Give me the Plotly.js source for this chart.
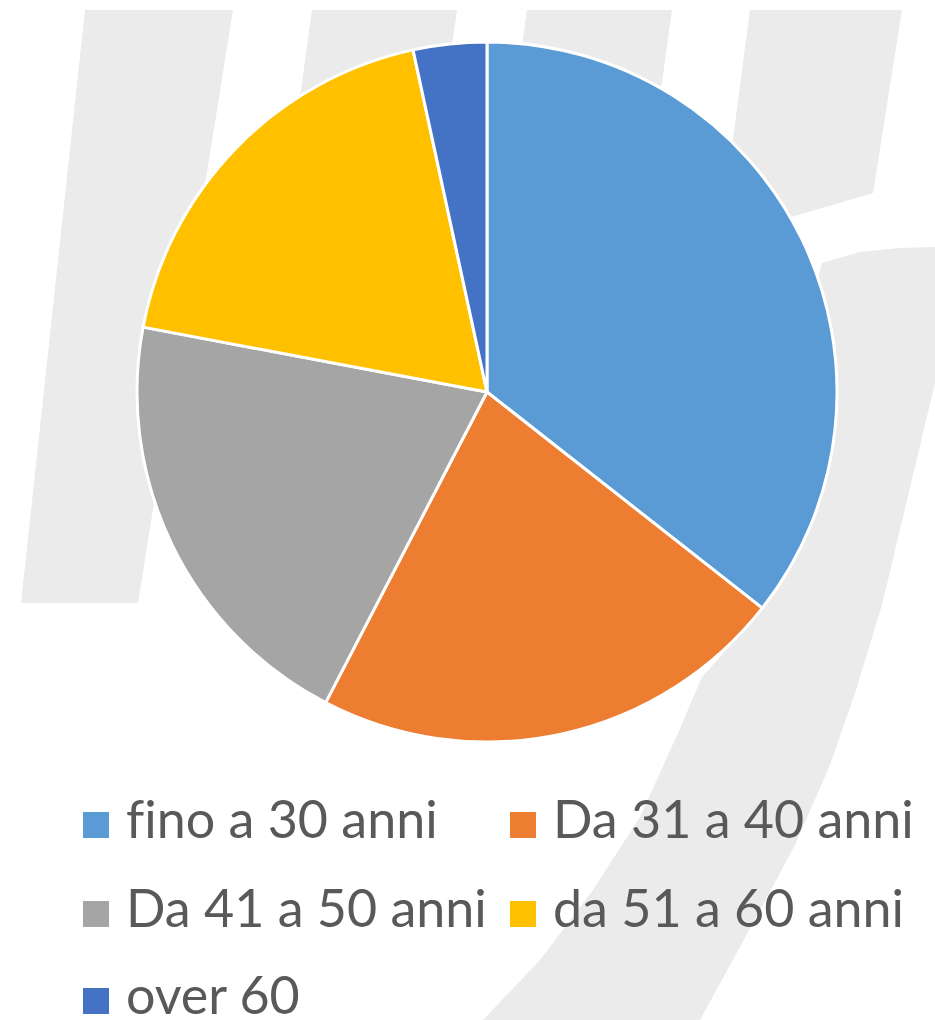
<!DOCTYPE html>
<html>
<head>
<meta charset="utf-8">
<script src="https://cdn.plot.ly/plotly-3.0.1.min.js"></script>
<style>html,body{margin:0;padding:0;background:#fff;}#chart{width:935px;height:1020px;}text{font-variant-ligatures:none;font-feature-settings:"liga" 0;}</style>
</head>
<body>
<div id="chart"></div>
<script>
// ---- data ----
const categories = ["fino a 30 anni", "Da 31 a 40 anni", "Da 41 a 50 anni", "da 51 a 60 anni", "over 60"];
const values = [21, 13, 12, 11, 2];
const colors = ["#5B9BD5", "#ED7D31", "#A5A5A5", "#FFC000", "#4472C4"];

// ---- layout helpers (pixel -> paper) ----
const W = 935, H = 1020;
const X = px => px / W;
const Y = py => 1 - py / H;
function pathFrom(points) {
  return points.map((p, i) => (i ? "L" : "M") + X(p[0]).toFixed(4) + "," + Y(p[1]).toFixed(4)).join(" ") + " Z";
}

// background watermark (decorative logo strokes)
const bgPolys = [
  [[85,10],[233,10],[138,603],[21,603]],
  [[312,10],[457,10],[372,603],[230,603]],
  [[527,10],[672,10],[590,603],[445,603]],
  [[750,10],[902,10],[873,193],[720,238]],
  [[822,263],[860,252],[900,248],[935,247],[960,247],[960,300],[935,383],[907,500],[882,605],[856,690],[830,765],[795,845],[752,925],[700,1020],[690,1040],
   [470,1040],[483,1020],[540,960],[593,890],[640,817],[678,733],[702,677],[744,630],[800,520],[825,392],[812,300]]
];
const shapes = bgPolys.map(poly => ({
  type: "path", xref: "paper", yref: "paper", layer: "below",
  path: pathFrom(poly), fillcolor: "#EBEBEB", line: {width: 0}
}));

// custom legend (large square markers like the original)
const annotations = [];
const colX = [83, 510];
const rowY = [825, 914, 1001];
const sq = 26;
categories.forEach((name, i) => {
  const c = i % 2, r = Math.floor(i / 2);
  const x0 = colX[c], yc = rowY[r];
  shapes.push({
    type: "rect", xref: "paper", yref: "paper", layer: "above",
    x0: X(x0), x1: X(x0 + sq), y0: Y(yc + sq / 2), y1: Y(yc - sq / 2),
    fillcolor: colors[i], line: {width: 0}
  });
  annotations.push({
    xref: "paper", yref: "paper", x: X(x0 + sq + 15), y: Y(yc - 7),
    xanchor: "left", yanchor: "middle", showarrow: false,
    text: name, font: {family: "Lato, 'Open Sans', sans-serif", size: 52, color: "#595959"}
  });
});

const trace = {
  type: "pie",
  labels: categories,
  values: values,
  sort: false,
  direction: "clockwise",
  rotation: 0,
  textinfo: "none",
  hoverinfo: "label+value+percent",
  marker: {colors: colors, line: {color: "#FFFFFF", width: 3}},
  domain: {x: [X(137), X(837)], y: [Y(742), Y(42)]},
  showlegend: false
};

const layout = {
  width: W, height: H,
  margin: {l: 0, r: 0, t: 0, b: 0},
  paper_bgcolor: "#FFFFFF",
  plot_bgcolor: "#FFFFFF",
  showlegend: false,
  shapes: shapes,
  annotations: annotations
};

Plotly.newPlot("chart", [trace], layout, {displayModeBar: false, staticPlot: true});
</script>
</body>
</html>
